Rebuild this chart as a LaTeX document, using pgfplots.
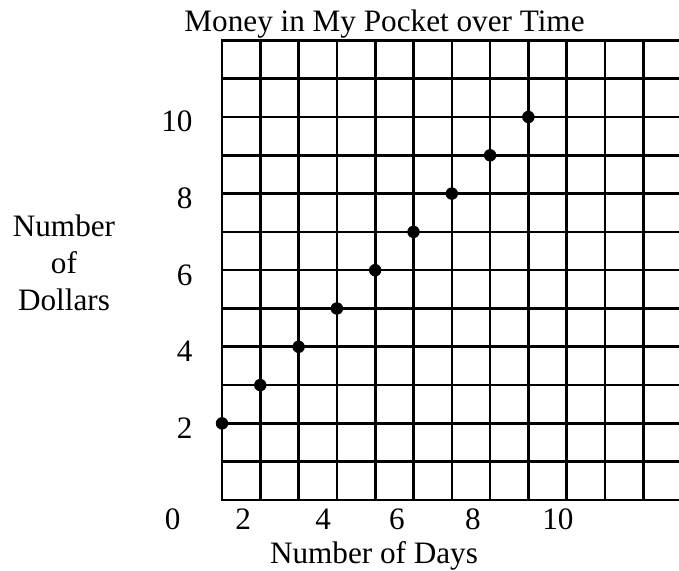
\documentclass[border=0pt]{standalone}
\usepackage{pgfplots}
\pgfplotsset{compat=1.18}
\usepackage{fontspec}
\setmainfont{Liberation Serif}
\begin{document}
\fontsize{15.6}{18.5}\selectfont
\begin{tikzpicture}
\begin{axis}[
  scale only axis, width=229.8pt, height=229.8pt,
  xmin=0, xmax=12, ymin=0, ymax=12,
  xtick={0,...,12}, ytick={0,...,12},
  xticklabels={},
  yticklabels={,,2,,4,,6,,8,,10,,},
  grid=major, grid style={black, line width=1.3pt},
  axis line style={black, line width=1.3pt},
  major tick length=0pt,
  extra x ticks={0.55,2.64,4.57,6.55,8.77},
  extra x tick labels={2,4,6,8,10},
  extra x tick style={grid=none, major tick length=0pt},
  xticklabel style={anchor=base, inner sep=0pt, yshift=-15pt},
  yticklabel style={anchor=base east, inner sep=0pt, xshift=-14.5pt, yshift=-7.5pt},
  clip=false,
]
\addplot[only marks, mark=*, mark size=2.9pt, black] coordinates {
  (0,2) (1,3) (2,4) (3,5) (4,6) (5,7) (6,8) (7,9) (8,10)
};
\node[anchor=base, inner sep=0pt, yshift=-15pt] at (axis cs:-1.29,0) {0};
\node[anchor=base, inner sep=0pt] at (rel axis cs:0.3536,1.0183) {Money in My Pocket over Time};
\node[anchor=base, inner sep=0pt] at (rel axis cs:0.3307,-0.1371) {Number of Days};
\node[align=center, anchor=center, inner sep=0pt] at (rel axis cs:-0.3438,0.5168) {Number\\of\\Dollars};
\coordinate (O) at (rel axis cs:0,0);
\end{axis}
\pgfresetboundingbox
\path[use as bounding box] ([shift={(-111pt,-35.5pt)}]O) rectangle ([shift={(228.5pt,250pt)}]O);
\end{tikzpicture}
\end{document}
